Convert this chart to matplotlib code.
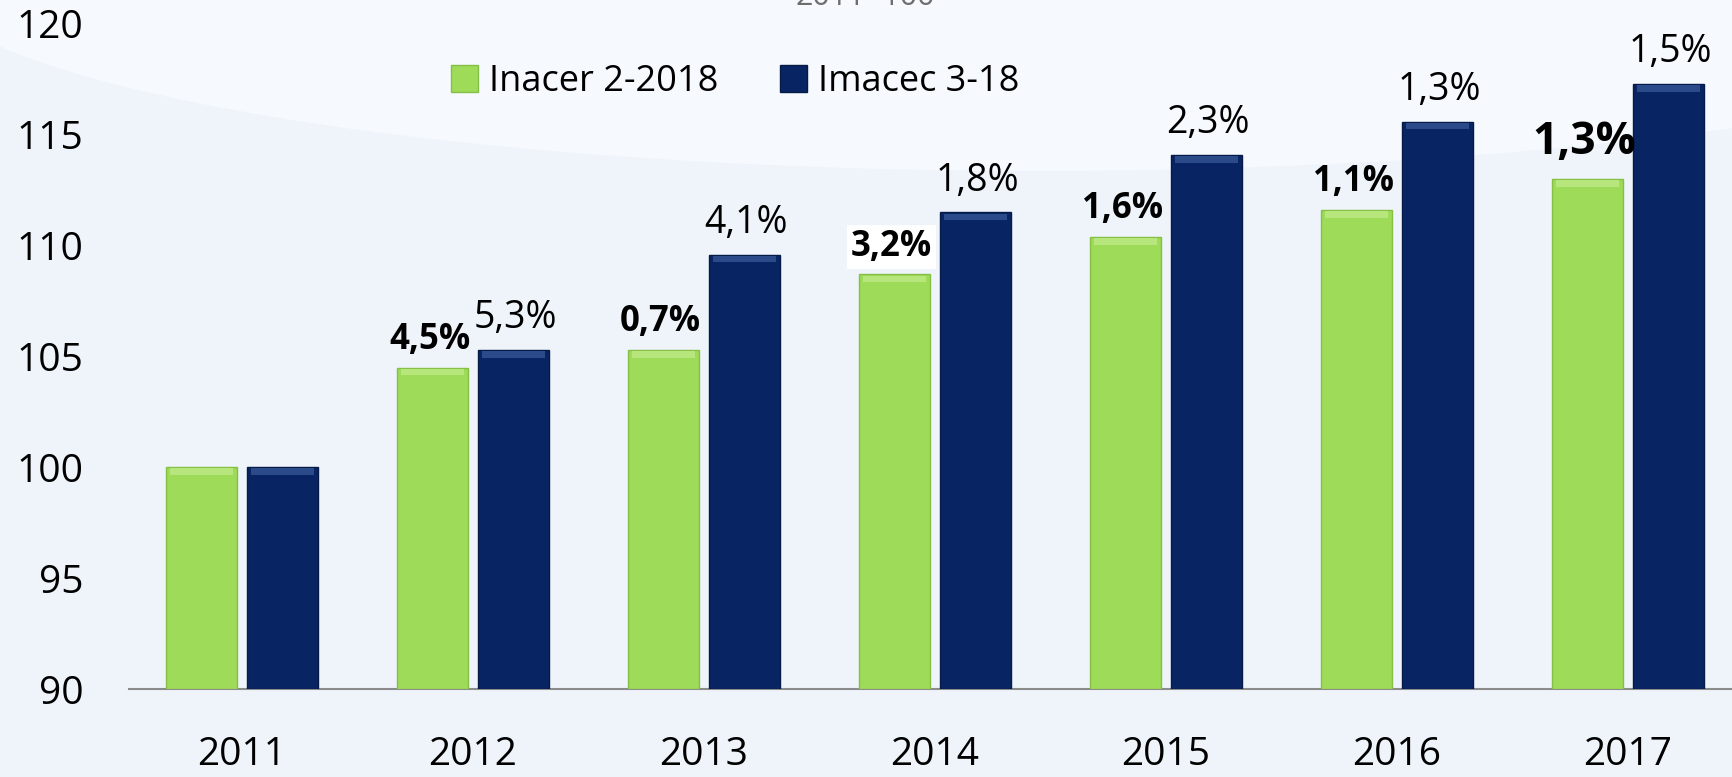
import matplotlib.pyplot as plt
from matplotlib.patches import Ellipse
import numpy as np

years = ["2011", "2012", "2013", "2014", "2015", "2016", "2017"]
inacer = [100.0, 104.5, 105.3, 108.7, 110.4, 111.6, 113.0]
imacec = [100.0, 105.3, 109.6, 111.5, 114.1, 115.6, 117.3]
inacer_lbl = ["", "4,5%", "0,7%", "3,2%", "1,6%", "1,1%", "1,3%"]
imacec_lbl = ["", "5,3%", "4,1%", "1,8%", "2,3%", "1,3%", "1,5%"]

green = "#9edb58"
green_top = "#b6e67c"
blue = "#082462"
blue_top = "#2a4a8a"

plt.rcParams["font.family"] = ["Open Sans", "DejaVu Sans"]

fig = plt.figure(figsize=(17.32, 7.77), dpi=100)
fig.patch.set_facecolor("#eff4fa")
# soft background arc, kept behind the axes
fig.add_artist(Ellipse((0.6, 1.04), 1.3, 0.52, transform=fig.transFigure,
                       facecolor="#f6f9fd", edgecolor="none", zorder=-1))
ax = fig.add_axes([129 / 1732, 1 - 689 / 777, 1 - 129 / 1732, (689 - 24) / 777])
ax.set_facecolor("none")

x = np.arange(len(years))
off = 0.176
w = 0.305
b1 = ax.bar(x - off, np.array(inacer) - 90, w, bottom=90, color=green,
            edgecolor="#86bf45", linewidth=1, label="Inacer 2-2018", zorder=3)
b2 = ax.bar(x + off, np.array(imacec) - 90, w, bottom=90, color=blue,
            edgecolor="#061a48", linewidth=1, label="Imacec 3-18", zorder=3)
# bevel highlight on top of bars
ax.bar(x - off, 0.3, w * 0.9, bottom=np.array(inacer) - 0.35, color=green_top,
       linewidth=0, zorder=4)
ax.bar(x + off, 0.3, w * 0.9, bottom=np.array(imacec) - 0.35, color=blue_top,
       linewidth=0, zorder=4)

for i in range(len(years)):
    if inacer_lbl[i]:
        fs = 32 if i == 6 else 25
        dy = 10 if i == 6 else 7
        kw = {}
        if i == 3:
            kw["bbox"] = dict(facecolor="white", edgecolor="none", pad=3)
        ax.annotate(inacer_lbl[i], (x[i] - off, inacer[i]), xytext=(-2, dy),
                    textcoords="offset points", ha="center", va="bottom",
                    fontsize=fs, fontweight="bold", color="black", zorder=6, **kw)
    if imacec_lbl[i]:
        ax.annotate(imacec_lbl[i], (x[i] + off, imacec[i]), xytext=(1, 9),
                    textcoords="offset points", ha="center", va="bottom",
                    fontsize=27, color="black", zorder=6)

ax.set_ylim(90, 120)
ax.set_xlim(-0.489, 6.45)
ax.set_yticks([90, 95, 100, 105, 110, 115, 120])
ax.set_xticks(x)
ax.set_xticklabels(years)
ax.tick_params(axis="y", length=0, pad=33, labelsize=28)
ax.tick_params(axis="x", length=0, pad=34, labelsize=28)
for s in ["top", "right", "left"]:
    ax.spines[s].set_visible(False)
ax.spines["bottom"].set_color("#8c8c8c")
ax.spines["bottom"].set_linewidth(1.5)

ax.legend(handles=[b1, b2], loc="center left", bbox_to_anchor=(451 / 1732, 1 - 82 / 777),
          bbox_transform=fig.transFigure, ncol=2, frameon=False, fontsize=26,
          handlelength=0.75, handleheight=0.75, handletextpad=0.3,
          columnspacing=1.7, borderpad=0, borderaxespad=0)

fig.text(865 / 1732, 1 - 5 / 777, "2011=100", ha="center", va="baseline",
         fontsize=22, color="#6e6e6e")

fig.savefig("out.png", dpi=100, facecolor=fig.get_facecolor())
